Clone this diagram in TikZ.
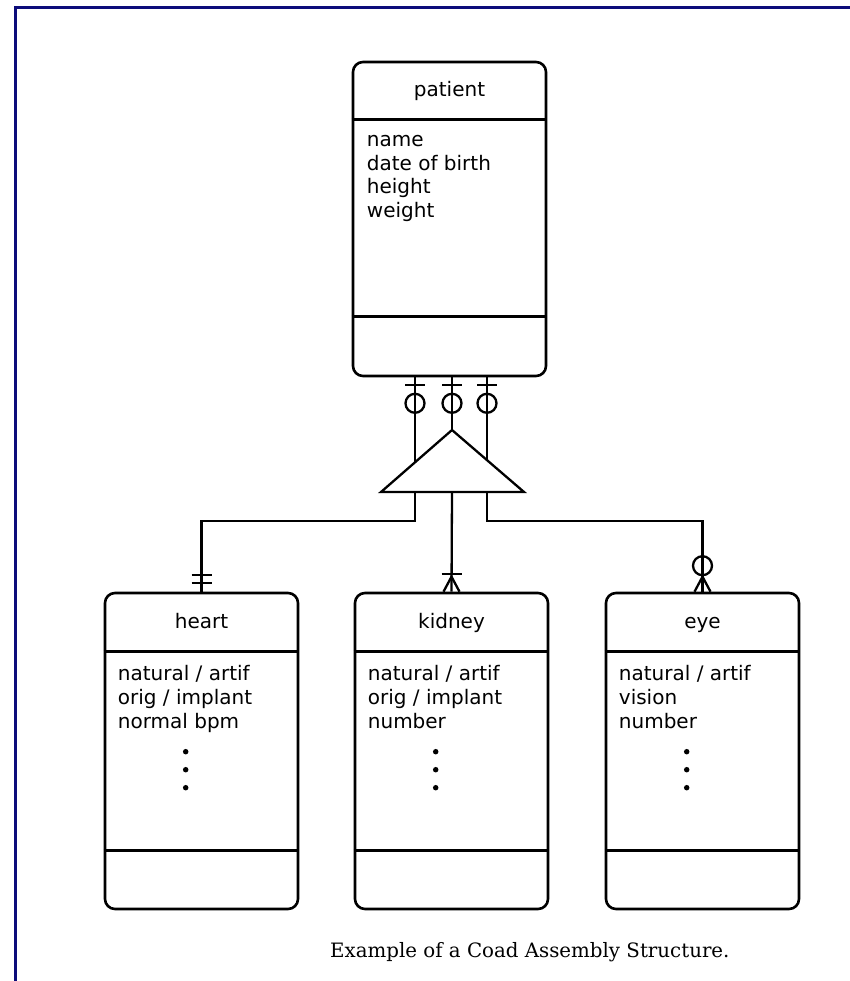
\documentclass[tikz,border=0pt]{standalone}
\usepackage{fontspec}
\setmainfont{DejaVu Sans}
\newfontfamily\capfont{DejaVu Serif}
\usetikzlibrary{positioning}
\definecolor{framenavy}{RGB}{12,12,122}

\tikzset{
  cls/.style={draw, line width=2.6pt, rounded corners=10pt, minimum width=193pt, inner sep=0pt},
  patientcls/.style={cls, minimum height=314pt},
  partcls/.style={cls, minimum height=316pt},
  sep/.style={line width=2.6pt},
  link/.style={line width=2.3pt},
  title/.style={anchor=base, inner sep=0pt, font=\fontsize{20}{24}\selectfont},
  attr/.style={anchor=base west, inner sep=0pt, font=\fontsize{20}{24}\selectfont},
  dotmark/.style={circle, fill, inner sep=0pt, minimum size=5.5pt},
}

\begin{document}
\begin{tikzpicture}[x=1pt, y=-1pt]
\useasboundingbox (0,0) rectangle (850,981);
\draw[framenavy, line width=3pt] (15,981) -- (15,8) -- (850,8);

% whole
\node[patientcls] (patient) at (449.5,219) {};
\draw[sep] ([yshift=-59pt]patient.north west) -- ([yshift=-59pt]patient.north east);
\draw[sep] ([yshift=61pt]patient.south west) -- ([yshift=61pt]patient.south east);
\node[title] (patient-t) at ([yshift=-36pt]patient.north) {patient};
\node[attr] (patient-a1) at ([xshift=15pt,yshift=-86pt]patient.north west) {name};
\node[attr] (patient-a2) at ([yshift=-23.5pt]patient-a1.base west) {date of birth};
\node[attr] (patient-a3) at ([yshift=-23.5pt]patient-a2.base west) {height};
\node[attr] (patient-a4) at ([yshift=-23.5pt]patient-a3.base west) {weight};

% parts
\node[partcls] (heart) at (201.5,751) {};
\node[partcls] (kidney) at (451.5,751) {};
\node[partcls] (eye) at (702.5,751) {};
\foreach \p in {heart,kidney,eye} {
  \draw[sep] ([yshift=-60pt]\p.north west) -- ([yshift=-60pt]\p.north east);
  \draw[sep] ([yshift=60pt]\p.south west) -- ([yshift=60pt]\p.south east);
  \node[dotmark] (\p-d1) at ([xshift=82pt,yshift=-160pt]\p.north west) {};
  \node[dotmark] (\p-d2) at ([xshift=82pt,yshift=-178pt]\p.north west) {};
  \node[dotmark] (\p-d3) at ([xshift=82pt,yshift=-196pt]\p.north west) {};
}
\node[title] (heart-t) at ([yshift=-37pt]heart.north) {heart};
\node[attr] (heart-a1) at ([xshift=14pt,yshift=-89pt]heart.north west) {natural / artif};
\node[attr] (heart-a2) at ([yshift=-24pt]heart-a1.base west) {orig / implant};
\node[attr] (heart-a3) at ([yshift=-24pt]heart-a2.base west) {normal bpm};

\node[title] (kidney-t) at ([yshift=-37pt]kidney.north) {kidney};
\node[attr] (kidney-a1) at ([xshift=14pt,yshift=-89pt]kidney.north west) {natural / artif};
\node[attr] (kidney-a2) at ([yshift=-24pt]kidney-a1.base west) {orig / implant};
\node[attr] (kidney-a3) at ([yshift=-24pt]kidney-a2.base west) {number};

\node[title] (eye-t) at ([yshift=-37pt]eye.north) {eye};
\node[attr] (eye-a1) at ([xshift=14pt,yshift=-89pt]eye.north west) {natural / artif};
\node[attr] (eye-a2) at ([yshift=-24pt]eye-a1.base west) {vision};
\node[attr] (eye-a3) at ([yshift=-24pt]eye-a2.base west) {number};

% assembly triangle
\coordinate (apex) at (452,430);
\coordinate (bl) at (381,492);
\coordinate (br) at (524,492);
\coordinate (lx) at (415,0);
\coordinate (mx) at (452,0);
\coordinate (rx) at (487,0);
\coordinate (bend) at (0,521);
\draw[link, line join=miter] (apex) -- (bl) -- (br) -- cycle;

% whole side
\draw[link] (patient.south -| lx) -- (415,462);
\draw[link] (patient.south -| mx) -- (apex);
\draw[link] (patient.south -| rx) -- (487,460);
\foreach \x in {lx,mx,rx} {
  \draw[link] (patient.south -| \x) ++(-10,8) -- ++(20,0);
  \draw[link] (patient.south -| \x) ++(0,26) circle[radius=9.5];
}

% part side
\draw[link] (lx |- bl) -- (lx |- bend) -| (heart.north);
\draw[link] (mx |- bl) -- (kidney.north);
\draw[link] (rx |- br) -- (rx |- bend) -| (eye.north);

\draw[link] (heart.north) ++(-10,-17) -- ++(20,0);
\draw[link] (heart.north) ++(-10,-9) -- ++(20,0);

\draw[link] (kidney.north) ++(-10,-18) -- ++(20,0);
\draw[link] (kidney.north) ++(-8,0) -- ++(8,-15) -- ++(8,15);

\draw[link] (eye.north) ++(0,-26) circle[radius=9.5];
\draw[link] (eye.north) ++(-8,0) -- ++(8,-15) -- ++(8,15);

\node[anchor=base west, inner sep=0pt, font=\capfont\fontsize{19.8}{23}\selectfont] (caption) at (330,957) {Example of a Coad Assembly Structure.};
\end{tikzpicture}
\end{document}
